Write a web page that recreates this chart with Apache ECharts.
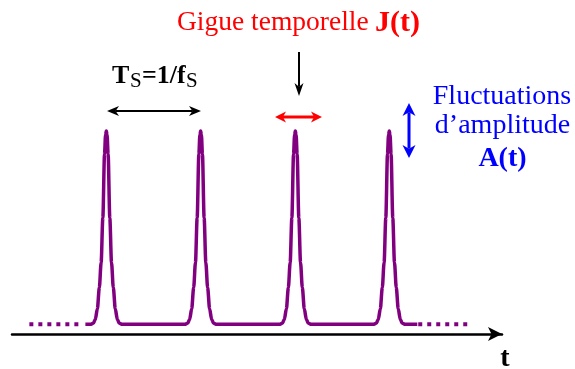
<!DOCTYPE html>
<html><head><meta charset="utf-8">
<script src="https://cdn.jsdelivr.net/npm/echarts@6/dist/echarts.min.js"></script>
<style>html,body{margin:0;padding:0;background:#fff}#c{width:575px;height:369px}</style>
</head><body><div id="c"></div>
<script>
// time in units of Ts (peaks at t = 1, 2, 3, 4), amplitude normalised to peak = 1
const signalT = [0.778,
  0.830,0.862,0.883,0.905,0.926,0.945,0.963,0.981,0.992,1.000,1.008,1.019,1.037,1.055,1.074,1.095,1.117,1.138,1.170,
  1.830,1.862,1.883,1.905,1.926,1.945,1.963,1.981,1.992,2.000,2.008,2.019,2.037,2.055,2.074,2.095,2.117,2.138,2.170,
  2.834,2.866,2.887,2.909,2.930,2.949,2.967,2.985,2.996,3.004,3.012,3.023,3.041,3.059,3.078,3.099,3.121,3.142,3.174,
  3.830,3.862,3.883,3.905,3.926,3.945,3.963,3.981,3.992,4.000,4.008,4.019,4.037,4.055,4.074,4.095,4.117,4.138,4.170,
  4.297];
const signalA = [0,
  0,0.005,0.025,0.08,0.19,0.32,0.55,0.88,0.98,1,0.98,0.88,0.55,0.32,0.19,0.08,0.025,0.005,0,
  0,0.005,0.025,0.08,0.19,0.32,0.55,0.88,0.98,1,0.98,0.88,0.55,0.32,0.19,0.08,0.025,0.005,0,
  0,0.005,0.025,0.08,0.19,0.32,0.55,0.88,0.98,1,0.98,0.88,0.55,0.32,0.19,0.08,0.025,0.005,0,
  0,0.005,0.025,0.08,0.19,0.32,0.55,0.88,0.98,1,0.98,0.88,0.55,0.32,0.19,0.08,0.025,0.005,0,
  0];
const dotsLeftT = [0.184, 0.746];
const dotsRightT = [4.307, 4.859];
const dotsA = [0, 0];
const axisName = 't';
const titleJ = ['Gigue temporelle ', 'J(t)'];
const periodLabel = ['T', 'S', '=1/f', 'S'];
const amplitudeLabel = ['Fluctuations', 'd\u2019amplitude', 'A(t)'];

const zip = (xs, ys) => xs.map((x, i) => [x, ys[i]]);
const PURPLE = '#800080';
const FONT = '"Liberation Serif","Times New Roman",serif';

function head(tx, ty, ux, uy, len, hw, color) {
  const bx = tx - ux * len, by = ty - uy * len;
  const nx = tx - ux * len * 0.72, ny = ty - uy * len * 0.72;
  const px = -uy, py = ux;
  return {type: 'polygon', silent: true, z: 20,
    shape: {points: [[tx, ty], [bx + px * hw, by + py * hw], [nx, ny], [bx - px * hw, by - py * hw]]},
    style: {fill: color}};
}
function arrow(x1, y1, x2, y2, color, lw, len, hw, both) {
  const L = Math.hypot(x2 - x1, y2 - y1), ux = (x2 - x1) / L, uy = (y2 - y1) / L;
  const s = both ? len * 0.72 : 0;
  const els = [{type: 'line', silent: true, z: 20,
    shape: {x1: x1 + ux * s, y1: y1 + uy * s, x2: x2 - ux * len * 0.72, y2: y2 - uy * len * 0.72},
    style: {stroke: color, lineWidth: lw}}];
  els.push(head(x2, y2, ux, uy, len, hw, color));
  if (both) els.push(head(x1, y1, -ux, -uy, len, hw, color));
  return els;
}
function txt(x, y, text, size, weight, color, align) {
  return {type: 'text', x: x, y: y, silent: true, z: 20,
    style: {text: text, fontSize: size, fontWeight: weight, fontFamily: FONT, fill: color,
      align: align || 'left', textAlign: align || 'left', verticalAlign: 'middle', textVerticalAlign: 'middle'}};
}

const chart = echarts.init(document.getElementById('c'), null, {renderer: 'canvas'});
const graphics = [].concat(
  arrow(107, 111, 201, 111, '#000', 2, 12, 5, true),
  arrow(299, 52, 299, 96, '#000', 2, 13, 4.5, false),
  arrow(275, 117, 322, 117, '#ff0000', 3, 11, 5.5, true),
  arrow(409, 103, 409, 158, '#0000ff', 3, 13, 6.5, true),
  [
    txt(177, 23, titleJ[0], 27.5, 'normal', '#ff0000'),
    txt(375, 23, titleJ[1], 30, 'bold', '#ff0000'),
    txt(112, 76, periodLabel[0], 26, 'bold', '#000'),
    txt(130, 81.5, periodLabel[1], 21, 'normal', '#000'),
    txt(142, 76, periodLabel[2], 26, 'bold', '#000'),
    txt(186, 81.5, periodLabel[3], 21, 'normal', '#000'),
    txt(502, 96.5, amplitudeLabel[0], 28, 'normal', '#0000ff', 'center'),
    txt(502.5, 126, amplitudeLabel[1], 28, 'normal', '#0000ff', 'center'),
    txt(502.5, 158.5, amplitudeLabel[2], 28, 'bold', '#0000ff', 'center'),
    txt(505, 358.5, axisName, 28, 'bold', '#000', 'center')
  ]
);

chart.setOption({
  animation: false,
  backgroundColor: '#fff',
  grid: {left: 12, right: 73, top: 131, bottom: 35},
  xAxis: {type: 'value', min: 0, max: 5.195,
    axisLine: {onZero: false, symbol: ['none', 'arrow'], symbolSize: [10.5, 14], lineStyle: {color: '#000', width: 2.5}},
    axisTick: {show: false}, axisLabel: {show: false}, splitLine: {show: false}},
  yAxis: {type: 'value', min: -0.05, max: 1, show: false, splitLine: {show: false}},
  series: [
    {type: 'line', data: zip(signalT, signalA), symbol: 'none', smooth: 0.3, smoothMonotone: 'x', clip: false,
      lineStyle: {color: PURPLE, width: 3.5}, z: 5},
    {type: 'line', data: zip(dotsLeftT, dotsA), symbol: 'none', clip: false,
      lineStyle: {color: PURPLE, width: 4, type: [4, 5], cap: 'butt'}, z: 5},
    {type: 'line', data: zip(dotsRightT, dotsA), symbol: 'none', clip: false,
      lineStyle: {color: PURPLE, width: 4, type: [4, 5], cap: 'butt'}, z: 5}
  ],
  graphic: graphics
});
</script></body></html>
